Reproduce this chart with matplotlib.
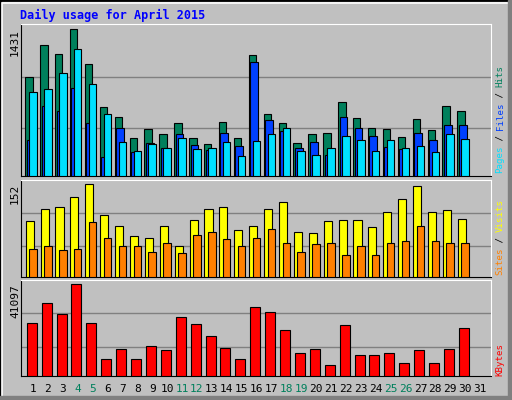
import matplotlib
matplotlib.use("Agg")
import matplotlib.pyplot as plt
from matplotlib.patches import Rectangle

days = list(range(1, 32))
hits = [963,1275,1190,1431,1093,680,582,377,465,416,524,377,319,533,377,1177,611,524,328,416,426,728,572,475,465,387,563,455,689,641]
files = [358,689,641,865,524,192,475,241,328,280,416,309,260,426,299,1109,553,446,280,338,211,582,475,397,289,270,426,358,504,504]
pages = [826,846,1002,1236,904,611,338,250,319,280,377,270,280,338,202,348,416,475,250,211,280,397,358,250,358,280,299,241,416,367]
sites = [91,111,114,131,152,101,84,66,64,83,51,93,111,114,76,84,112,122,74,71,91,93,93,81,107,127,149,106,109,94]
visits = [45,50,43,45,89,64,51,51,41,56,38,69,74,61,51,63,79,56,41,53,55,35,50,36,56,59,83,59,56,55]
kbytes = [23550,32550,27600,41097,23550,7800,12300,7800,13650,11850,26250,23100,18150,12750,7800,30750,28500,20400,10500,12300,5100,22650,9600,9600,10500,6000,11850,6000,12300,21300]
weekends = [4,5,11,12,18,19,25,26]

W, H = 512, 400
fig = plt.figure(figsize=(W/100, H/100), dpi=100)
fig.patch.set_facecolor('#c0c0c0')
fig.add_artist(Rectangle((0,0),1,1,transform=fig.transFigure,fill=False,ec='black',lw=2))
fig.add_artist(Rectangle((2/W,2/H),1-5/W,1-5/H,transform=fig.transFigure,fill=False,ec='white',lw=1.2))
fig.add_artist(Rectangle((0,0),1,4/H,transform=fig.transFigure,color='#808080'))
fig.add_artist(Rectangle((1-4/W,0),4/W,1,transform=fig.transFigure,color='#808080'))

mono = 'DejaVu Sans Mono'
fig.text(20/W, 1-15/H, 'Daily usage for April 2015', color='#0000ff', family=mono,
         fontweight='bold', fontsize=8.5, va='center', ha='left')

x0, x1 = 20.7, 490.7
def mkax(ytop, ybot, ymax):
    ax = fig.add_axes([x0/W, 1-ybot/H, (x1-x0)/W, (ybot-ytop)/H])
    ax.set_facecolor('#c0c0c0')
    ax.set_xlim(0.175, 31.72)
    ax.set_ylim(0, ymax)
    ax.set_xticks([]); ax.set_yticks([])
    for s in ax.spines.values():
        s.set_color('black')
    ax.spines['top'].set_color('white'); ax.spines['right'].set_color('white')
    return ax

def bars(ax, vals, lo, hi, color):
    xs = [d + (lo+hi)/2 for d in days[:len(vals)]]
    ax.bar(xs, vals, width=hi-lo, color=color, edgecolor='black', linewidth=0.8, zorder=3)

def grid(ax, vmax, fracs):
    for f in fracs:
        ax.axhline(vmax*f, color='#808080', lw=1, zorder=1)

ax1 = mkax(24.3, 176.5, 1480)
grid(ax1, 1431, [0.33, 0.677])
bars(ax1, hits, -0.52, -0.02, '#00805c')
bars(ax1, files, -0.42, 0.10, '#0040ff')
bars(ax1, pages, -0.25, 0.25, '#00e0ff')

ax2 = mkax(180, 276.5, 159)
grid(ax2, 152, [0.326, 0.685])
bars(ax2, sites, -0.49, 0.05, '#ffff00')
bars(ax2, visits, -0.25, 0.25, '#ff8000')

ax3 = mkax(280.3, 376, 42900)
grid(ax3, 41097, [0.321, 0.682])
bars(ax3, kbytes, -0.42, 0.25, '#ff0000')

for ytop, txt in [(29, '1431'), (184, '152'), (284, '41097')]:
    fig.text(15/W, 1-ytop/H, txt, rotation=90, ha='center', va='top', family=mono, fontsize=8)

CH = 5.4
def rlabel(ybottom, parts):
    y = ybottom
    for txt, col in parts:
        fig.text(500/W, 1-y/H, txt, rotation=90, ha='center', va='bottom', family=mono,
                 fontsize=6.6, color=col)
        y -= len(txt)*CH
rlabel(173, [('Pages', '#00e0ff'), (' / ', 'black'), ('Files', '#0040ff'), (' / ', 'black'), ('Hits', '#00805c')])
rlabel(275, [('Sites', '#ff8000'), (' / ', 'black'), ('Visits', '#ffff00')])
rlabel(376, [('KBytes', '#ff0000')])

for d in days:
    px = 33 + (d-1)*14.9
    fig.text(px/W, 1-389/H, str(d), ha='center', va='center', family=mono, fontsize=8,
             color='#00805c' if d in weekends else 'black')

fig.savefig('out.png', dpi=100, facecolor=fig.get_facecolor())
